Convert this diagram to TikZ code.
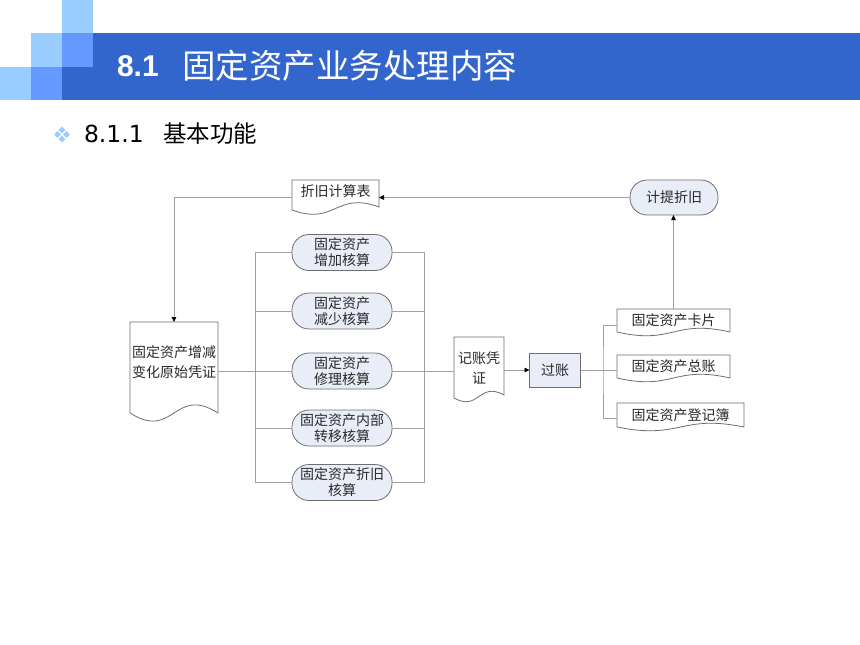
\documentclass[tikz,border=0pt]{standalone}
\usepackage{fontspec}
\newfontfamily\cjk{Noto Sans CJK SC}
\newfontfamily\lsans{Liberation Sans}
\newfontfamily\dsans{DejaVu Sans}
\usetikzlibrary{arrows.meta,calc}
\definecolor{lightsq}{HTML}{99CCFF}
\definecolor{medsq}{HTML}{6699FF}
\definecolor{darkbar}{HTML}{3366CC}
\definecolor{boxfill}{HTML}{E8EDF8}
\definecolor{edgegray}{HTML}{6E6E6E}
\definecolor{linegray}{HTML}{A0A0A0}
\definecolor{txt}{HTML}{2A2A2A}
\newcommand\upby[2]{\raisebox{#1}[\height][\depth]{\begin{tabular}{@{}c@{}}#2\end{tabular}}}
\newcommand\docwave[3]{\draw[docline] (#1.south west) -- (#1.north west) -- (#1.north east) -- ($(#1.south east)+(0,-#2)$) .. controls ($(#1.south)+(0,-#2-#3)$) and ($(#1.south)+(0,#3)$) .. (#1.south west);}
\begin{document}
\begin{tikzpicture}[x=1pt,y=-1pt,
  every node/.style={inner sep=0pt, outer sep=0pt},
  dfont/.style={font=\cjk\fontsize{14}{16}\selectfont, text=txt, align=center},
  dfontwide/.style={font=\cjk\fontsize{14}{20}\selectfont, text=txt, align=center},
  stadium/.style={dfont, draw=edgegray, fill=boxfill, line width=0.8pt, rounded corners=17pt, minimum width=100pt, minimum height=36pt},
  plainbox/.style={dfont, draw=edgegray, fill=boxfill, line width=0.8pt},
  docline/.style={draw=edgegray, line width=0.8pt},
  conn/.style={draw=linegray, line width=0.8pt},
  arr/.style={conn, -{Triangle[length=5pt,width=4.5pt,color=black]}}
]
\useasboundingbox (0,0) rectangle (860,645);
\fill[white] (0,0) rectangle (860,645);
% header
\fill[lightsq] (62,0) rectangle (93,33);
\fill[lightsq] (31,33) rectangle (62,67);
\fill[medsq] (62,33) rectangle (93,67);
\fill[lightsq] (0,67) rectangle (31,100);
\fill[medsq] (31,67) rectangle (62,100);
\fill[darkbar] (62,67) rectangle (93,100);
\fill[darkbar] (93,33) rectangle (860,100);
\node[anchor=west, text=white, font=\lsans\bfseries\fontsize{30}{30}\selectfont] (t1) at (117,66) {8.1};
\node[anchor=west, text=white, font=\cjk\fontsize{33.5}{33.5}\selectfont] (t2) at (182,66) {固定资产业务处理内容};
% subtitle
\foreach \px/\py in {57.5/134.5, 66.5/134.5, 62/130, 62/139}
  \fill[lightsq] (\px,\py) +(-3.4,0) -- +(0,-3.4) -- +(3.4,0) -- +(0,3.4) -- cycle;
\node[anchor=west, font=\dsans\fontsize{23.5}{23.5}\selectfont] (s1) at (84,134) {8.1.1};
\node[anchor=west, font=\cjk\fontsize{23.5}{23.5}\selectfont] (s2) at (163,134) {基本功能};
% diagram nodes
\node[stadium, minimum width=88pt, minimum height=35pt] (jtzj) at (674,197.5) {计提折旧};
\node[dfont, minimum width=87pt, minimum height=30pt] (zjb) at (335.5,195) {\upby{2pt}{折旧计算表}};
\node[dfontwide, minimum width=88pt, minimum height=91pt] (yszp) at (174,367.5) {\upby{4.5pt}{固定资产增减\\变化原始凭证}};
\node[stadium] (b1) at (342,252.5) {固定资产\\增加核算};
\node[stadium] (b2) at (342,311) {固定资产\\减少核算};
\node[stadium] (b3) at (342,371) {固定资产\\修理核算};
\node[stadium] (b4) at (342,428) {固定资产内部\\转移核算};
\node[stadium] (b5) at (342,482.5) {固定资产折旧\\核算};
\node[dfontwide, minimum width=50pt, minimum height=61pt] (jzpz) at (479,367.5) {记账凭\\证};
\node[plainbox, minimum width=51pt, minimum height=34pt] (gz) at (555,370) {过账};
\node[dfont, minimum width=113pt, minimum height=23pt] (kp) at (673.5,320.5) {固定资产卡片};
\node[dfont, minimum width=113pt, minimum height=23pt] (zz) at (673.5,366.5) {固定资产总账};
\node[dfont, minimum width=127pt, minimum height=24pt] (djb) at (680.5,415) {固定资产登记簿};
% document outlines
\docwave{zjb}{3}{16}
\docwave{yszp}{0}{28}
\docwave{jzpz}{3}{14}
\docwave{kp}{0}{13}
\docwave{zz}{0}{13}
\docwave{djb}{0}{13}
% connectors
\coordinate (lbus) at (255,0);
\coordinate (rbus) at (424,0);
\coordinate (gbus) at (603,0);
\draw[arr] (jtzj.west) -- (jtzj.west -| zjb.east);
\draw[arr] (zjb.west |- jtzj.west) -| (yszp.north);
\draw[conn] (yszp.east |- b3.west) -- (b3.west);
\draw[conn] (b1.west) -- (b1.west -| lbus) -- (b5.west -| lbus) -- (b5.west);
\draw[conn] (b2.west) -- (b2.west -| lbus);
\draw[conn] (b4.west) -- (b4.west -| lbus);
\draw[conn] (b1.east) -- (b1.east -| rbus) -- (b5.east -| rbus) -- (b5.east);
\draw[conn] (b2.east) -- (b2.east -| rbus);
\draw[conn] (b4.east) -- (b4.east -| rbus);
\draw[conn] (b3.east) -- (jzpz.west |- b3.east);
\draw[arr] (jzpz.east |- gz.west) -- (gz.west);
\draw[conn] (gz.east) -- (zz.west |- gz.east);
\draw[conn] ([yshift=-4.5pt]kp.west) -| (gbus |- gz.east) |- ([yshift=-3pt]djb.west);
\draw[arr] (kp.north) -- (kp.north |- jtzj.south);
\end{tikzpicture}
\end{document}
